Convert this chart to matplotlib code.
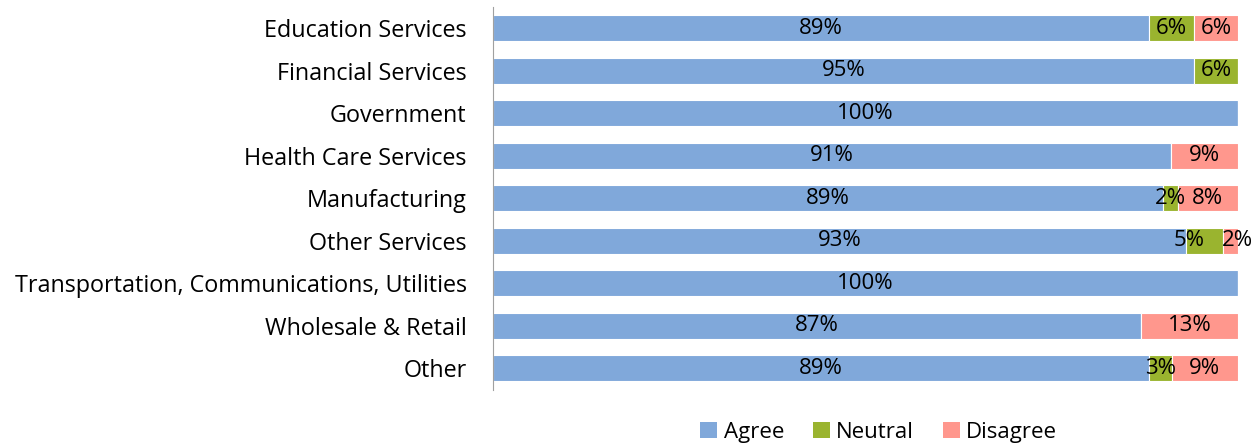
import numpy as np
import matplotlib.pyplot as plt
from matplotlib.patches import Patch

plt.rcParams['font.family'] = ['Open Sans', 'DejaVu Sans']

sectors = ['Education Services', 'Financial Services', 'Government',
           'Health Care Services', 'Manufacturing', 'Other Services',
           'Transportation, Communications, Utilities', 'Wholesale & Retail',
           'Other']
agree = [89, 95, 100, 91, 89, 93, 100, 87, 89]
neutral = [6, 6, 0, 0, 2, 5, 0, 0, 3]
disagree = [6, 0, 0, 9, 8, 2, 0, 13, 9]

series = [('Agree', agree, '#80A8DA'),
          ('Neutral', neutral, '#9AB42F'),
          ('Disagree', disagree, '#FF978D')]

# labels on thin segments get pushed sideways so they don't collide
nudge = {(5, 1): -11, (5, 2): 5}

vals = np.array([agree, neutral, disagree], dtype=float)
shares = vals / vals.sum(axis=0)  # 100% stacked
y = np.arange(len(sectors))

fig = plt.figure(figsize=(12.59, 4.48), dpi=100)
ax = fig.add_axes([0.3916, 0.130, 0.5917, 0.855])

left = np.zeros(len(sectors))
for k, (name, raw, col) in enumerate(series):
    w = shares[k]
    ax.barh(y, w, left=left, height=0.61, color=col, edgecolor='white',
            linewidth=0.8)
    for i in range(len(sectors)):
        if raw[i] > 0:
            ax.annotate(f'{raw[i]}%', (left[i] + w[i] / 2, y[i]),
                        xytext=(nudge.get((i, k), 0), 0),
                        textcoords='offset points', ha='center',
                        va='center', fontsize=16, color='black',
                        annotation_clip=False)
    left += w

ax.set_xlim(0, 1)
ax.set_ylim(len(sectors) - 0.5, -0.5)
ax.set_yticks(y)
ax.set_yticklabels(sectors, fontsize=16.8)
ax.tick_params(axis='y', length=0, pad=19)
ax.set_xticks([])
for s in ['top', 'right', 'bottom']:
    ax.spines[s].set_visible(False)
ax.spines['left'].set_color('#A0A0A0')

handles = [Patch(facecolor=c, label=n) for n, _, c in series]
fig.legend(handles=handles, loc='center', ncol=3, frameon=False,
           fontsize=16, bbox_to_anchor=(0.698, 0.035), handlelength=0.75,
           handleheight=0.75, handletextpad=0.3, columnspacing=1.3)

fig.savefig('out.png', dpi=100)
